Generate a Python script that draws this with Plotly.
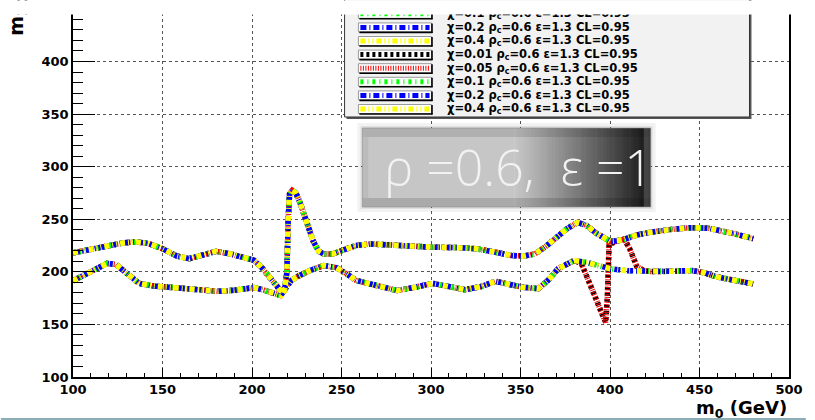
import plotly.graph_objects as go

# ---------------- data ----------------
chi_values = [0.01, 0.05, 0.1, 0.2, 0.4]
series_colors = ["#000000", "#ff0000", "#00ff00", "#0000ff", "#ffff00"]
series_dash = ["3px,3px", "1px,1.5px", "3px,4px,1px,4px",
               "6px,3px,1px,3px", "5px,3px,1px,3px,1px,3px"]
rho_c = 0.6
eps_val = 1.3
cl_val = 0.95
box_label = "ρ =0.6,  ε =1"

# upper contour, shared part (m0, m1/2 in GeV)
m0_upper_left = [100, 108, 118, 128, 135, 142, 150, 158, 165, 172, 180, 188, 196, 201,
                 205, 209, 213, 216, 218, 219.5, 220.2, 221, 222.5, 224.5, 227, 231, 234,
                 237, 240, 245, 252, 258, 266, 280, 300, 315, 325, 335, 345, 352, 358,
                 364, 370, 376, 382, 387, 392, 397, 400]
m12_upper_left = [218, 221, 225, 227.5, 228.5, 227, 222, 215, 212.5, 216, 219.5, 217, 213.5, 211,
                  205, 196, 188, 182, 180, 200, 250, 274, 277.5, 275, 265, 245, 230,
                  220, 217, 217, 221, 225, 226.5, 225, 223.5, 223, 222, 219, 215.5, 215, 217,
                  224, 233, 241, 247, 244, 237, 232, 229]
m0_upper_right = [404, 408, 415, 422, 435, 445, 455, 462, 470, 480]
m12_upper_right = [229.5, 231, 235, 237.5, 240.5, 242, 241.5, 239.5, 236, 231.5]

# lower contour, shared part
m0_lower_left = [100, 108, 114, 119, 124, 130, 137, 145, 153, 165, 175, 181, 190, 197,
                 201, 206, 211, 216, 219, 222, 226, 232, 240, 247, 253, 258, 266, 273,
                 281, 290, 301, 310, 319, 328, 336, 344, 351, 360, 366, 371, 376, 380]
m12_lower_left = [191.5, 198, 204, 208, 207, 199, 189, 186.5, 185.5, 184, 182.5, 181.5, 182.5, 184.5,
                  185, 183, 180.5, 177.5, 185, 192, 196, 201, 206, 204, 198, 192, 188.5, 185,
                  182.2, 185, 189, 186, 183, 186, 191, 188, 185.4, 184, 193, 203, 208, 210.7]
m0_lower_mid = [387, 394, 400, 410]
m12_lower_mid = [209, 206, 203, 201]
m0_lower_right = [423, 435, 446, 453, 459, 466, 473, 480]
m12_lower_right = [200.3, 200.5, 201.2, 199, 195.5, 193, 191, 188.5]

# small-chi (0.01, 0.05) excursions near m0 = 400
m0_dip = [384, 388, 392, 395.5, 397.6, 398.5, 399, 399.5]
m12_dip = [208, 193, 175, 160, 152, 175, 200, 226]
m0_drop = [404, 408, 411, 415, 419]
m12_drop = [229.5, 231, 222, 205, 201]

x_ticks = [100, 150, 200, 250, 300, 350, 400, 450, 500]
y_ticks = [100, 150, 200, 250, 300, 350, 400]

# legend entries visible below the crop (indices into chi_values)
legend_order = [2, 3, 4, 0, 1, 2, 3, 4]

# ---------------- layout geometry (pixels) ----------------
W, H = 815, 420
L, R, T, B = 73, 798, 13, 377


def fx(px):
    return (px - L) / (R - L)


def fy(py):
    return (B - py) / (B - T)


fig = go.Figure()

# small-chi graphs first, then the others on top
draw_order = sorted(range(len(chi_values)), key=lambda i: (chi_values[i] >= 0.1, i))
for i in draw_order:
    chi, col, dash = chi_values[i], series_colors[i], series_dash[i]
    small = chi < 0.1
    for branch in ("upper", "lower"):
        if branch == "upper":
            if small:
                xs = m0_upper_left + m0_drop + m0_lower_right
                ys = m12_upper_left + m12_drop + m12_lower_right
            else:
                xs = m0_upper_left + m0_upper_right
                ys = m12_upper_left + m12_upper_right
        else:
            if small:
                xs = m0_lower_left + m0_dip + m0_upper_right
                ys = m12_lower_left + m12_dip + m12_upper_right
            else:
                xs = m0_lower_left + m0_lower_mid + m0_lower_right
                ys = m12_lower_left + m12_lower_mid + m12_lower_right
        fig.add_trace(go.Scatter(
            x=xs, y=ys, mode="lines",
            line=dict(color=col, width=5.5, dash=dash),
            name=f"χ={chi}", showlegend=False, hoverinfo="skip"))

shapes = []
annotations = []

# ---------------- legend box ----------------
shapes.append(dict(type="rect", xref="paper", yref="paper",
                   x0=fx(350), x1=fx(760), y0=fy(119), y1=fy(-200),
                   fillcolor="#555555", line=dict(width=0), layer="above"))
shapes.append(dict(type="rect", xref="paper", yref="paper",
                   x0=fx(348), x1=fx(758), y0=fy(117), y1=fy(-200),
                   fillcolor="#f2f2f2", line=dict(color="#333333", width=1), layer="above"))

n_entries = len(legend_order)
for k, idx in enumerate(legend_order):
    yc = 109 - 13.6 * (n_entries - 1 - k)
    shapes.append(dict(type="rect", xref="paper", yref="paper",
                       x0=fx(362), x1=fx(436), y0=fy(yc + 4.5), y1=fy(yc - 4.5),
                       fillcolor="#ffffff", line=dict(color="#9a9a9a", width=1), layer="above"))
    shapes.append(dict(type="line", xref="paper", yref="paper",
                       x0=fx(363), x1=fx(437), y0=fy(yc + 5), y1=fy(yc + 5),
                       line=dict(color="#000000", width=1.6), layer="above"))
    shapes.append(dict(type="line", xref="paper", yref="paper",
                       x0=fx(436.5), x1=fx(436.5), y0=fy(yc + 5.5), y1=fy(yc - 4),
                       line=dict(color="#000000", width=1.6), layer="above"))
    shapes.append(dict(type="line", xref="paper", yref="paper",
                       x0=fx(364), x1=fx(434), y0=fy(yc), y1=fy(yc),
                       line=dict(color=series_colors[idx], width=5, dash=series_dash[idx]),
                       layer="above"))
    annotations.append(dict(
        xref="paper", yref="paper", x=fx(450), y=fy(yc), xanchor="left", yanchor="middle",
        text=f"χ={chi_values[idx]} ρ<sub>c</sub>={rho_c} ε={eps_val} CL={cl_val}",
        showarrow=False,
        font=dict(family="DejaVu Sans", size=11.5, color="#000000", weight="bold")))

# ---------------- rho / epsilon label box ----------------
bx0, bx1, by0, by1 = 366, 658, 128, 207
shapes.append(dict(type="rect", xref="paper", yref="paper",
                   x0=fx(bx0 - 5), x1=fx(bx1 + 5), y0=fy(by1 + 5), y1=fy(by0 - 5),
                   fillcolor="rgba(0,0,0,0.05)", line=dict(width=0), layer="above"))
shapes.append(dict(type="rect", xref="paper", yref="paper",
                   x0=fx(bx0 - 2), x1=fx(bx1 + 2), y0=fy(by1 + 2), y1=fy(by0 - 2),
                   fillcolor="rgba(0,0,0,0.07)", line=dict(width=0), layer="above"))
shapes.append(dict(type="rect", xref="paper", yref="paper",
                   x0=fx(bx0), x1=fx(520), y0=fy(by1), y1=fy(by0),
                   fillcolor="#c6c6c6", line=dict(width=0), layer="above"))
n_strips = 40
g_start, g_end = 520, bx1
for i in range(n_strips):
    t = (i + 0.5) / n_strips
    v = int(round(198 - (198 - 20) * (t ** 1.1)))
    xa = g_start + (g_end - g_start) * i / n_strips
    xb = g_start + (g_end - g_start) * (i + 1) / n_strips + 0.6
    shapes.append(dict(type="rect", xref="paper", yref="paper",
                       x0=fx(xa), x1=fx(min(xb, bx1)), y0=fy(by1), y1=fy(by0),
                       fillcolor=f"rgb({v},{v},{v})", line=dict(width=0), layer="above"))
shapes.append(dict(type="rect", xref="paper", yref="paper",
                   x0=fx(bx0), x1=fx(bx1), y0=fy(by0 + 9), y1=fy(by0),
                   fillcolor="rgba(0,0,0,0.11)", line=dict(width=0), layer="above"))
shapes.append(dict(type="rect", xref="paper", yref="paper",
                   x0=fx(bx0), x1=fx(bx1), y0=fy(by1), y1=fy(by1 - 9),
                   fillcolor="rgba(0,0,0,0.14)", line=dict(width=0), layer="above"))
shapes.append(dict(type="rect", xref="paper", yref="paper",
                   x0=fx(bx0), x1=fx(bx0 + 6), y0=fy(by1 - 9), y1=fy(by0 + 9),
                   fillcolor="rgba(0,0,0,0.05)", line=dict(width=0), layer="above"))
shapes.append(dict(type="rect", xref="paper", yref="paper",
                   x0=fx(bx1 - 7), x1=fx(bx1), y0=fy(by1), y1=fy(by0),
                   fillcolor="rgba(255,255,255,0.18)", line=dict(width=0), layer="above"))
shapes.append(dict(type="rect", xref="paper", yref="paper",
                   x0=fx(bx0), x1=fx(bx1), y0=fy(by1), y1=fy(by0),
                   fillcolor="rgba(0,0,0,0)", line=dict(color="rgba(140,140,140,0.6)", width=1),
                   layer="above"))
annotations.append(dict(
    xref="paper", yref="paper", x=fx(386), y=fy(167), xanchor="left", yanchor="middle",
    text=box_label, showarrow=False,
    font=dict(family="Open Sans", size=50, color="#f2f2f2", weight=300)))

# ---------------- axis titles ----------------
annotations.append(dict(
    xref="paper", yref="paper", x=fx(798), y=fy(409), xanchor="right", yanchor="middle",
    text="m<sub>0</sub> (GeV)", showarrow=False,
    font=dict(family="DejaVu Sans", size=18, color="#000000", weight="bold")))
annotations.append(dict(
    xref="paper", yref="paper", x=fx(17), y=fy(38), xanchor="center", yanchor="bottom",
    text="m<sub>1/2</sub> (GeV)", textangle=-90, showarrow=False,
    font=dict(family="DejaVu Sans", size=19, color="#000000", weight="bold")))

# bottom strip line
shapes.append(dict(type="line", xref="paper", yref="paper",
                   x0=fx(0), x1=fx(W), y0=fy(419), y1=fy(419),
                   line=dict(color="#8aadb6", width=2), layer="above"))

# top crop mask (drawn last, above everything)
annotations.append(dict(
    xref="paper", yref="paper", x=fx(0), y=fy(0), xanchor="left", yanchor="top",
    text=" ", showarrow=False, width=W, height=T, borderpad=0,
    bgcolor="#ffffff", font=dict(size=4)))

fig.update_layout(
    width=W, height=H,
    margin=dict(l=L, r=W - R, t=T, b=H - B, pad=0),
    paper_bgcolor="#ffffff", plot_bgcolor="#ffffff",
    showlegend=False,
    shapes=shapes, annotations=annotations,
    xaxis=dict(
        range=[100, 500], tickvals=x_ticks, ticktext=[str(v) for v in x_ticks],
        ticks="inside", ticklen=9, tickwidth=1, tickcolor="#000000",
        minor=dict(dtick=10, tick0=100, ticks="inside", ticklen=4, tickcolor="#000000",
                   showgrid=False),
        showline=True, linecolor="#000000", linewidth=1.5, mirror=False,
        showgrid=True, gridcolor="#555555", griddash="dot", gridwidth=1,
        zeroline=False,
        tickfont=dict(family="DejaVu Sans", size=13, color="#000000", weight="bold")),
    yaxis=dict(
        range=[100, 446.1], tickvals=y_ticks, ticktext=[str(v) for v in y_ticks],
        ticks="inside", ticklen=22, tickwidth=1, tickcolor="#000000",
        minor=dict(dtick=10, tick0=100, ticks="inside", ticklen=10, tickcolor="#000000",
                   showgrid=False),
        showline=True, linecolor="#000000", linewidth=1.5, mirror=True,
        showgrid=True, gridcolor="#555555", griddash="dot", gridwidth=1,
        zeroline=False,
        tickfont=dict(family="DejaVu Sans", size=13, color="#000000", weight="bold")),
)

fig.write_html("out.html")
